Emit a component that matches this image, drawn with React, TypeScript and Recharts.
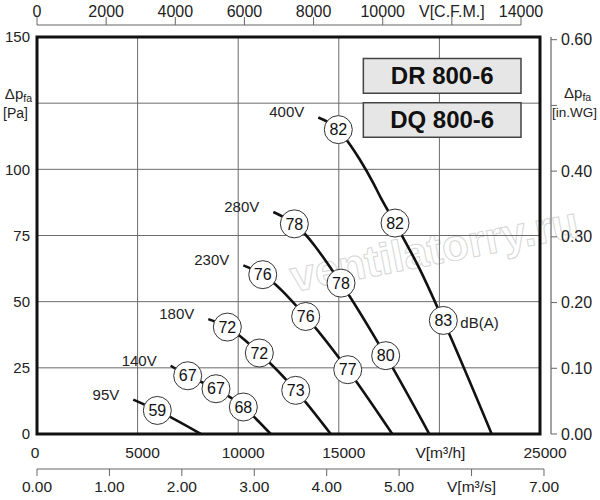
import React from "react";
import {
  LineChart,
  Line,
  XAxis,
  YAxis,
  CartesianGrid,
  ReferenceArea,
  ReferenceLine,
} from "recharts";

// fan curves, V in m3/h, dp in Pa, db = sound level written in the circle
const CURVE_400V = [
  { q: 13980, p: 119.6 },
  { q: 14975, p: 115.0, db: 82 },
  { q: 15560, p: 109.3 },
  { q: 16050, p: 103.6 },
  { q: 16715, p: 94.8 },
  { q: 17050, p: 89.8 },
  { q: 17795, p: 79.7, db: 82 },
  { q: 19035, p: 62.1 },
  { q: 20195, p: 42.9, db: 83, unit: "dB(A)" },
  { q: 22600, p: 0 },
];
const CURVE_280V = [
  { q: 11745, p: 83.9 },
  { q: 12790, p: 79.4, db: 78 },
  { q: 15110, p: 57.0, db: 78 },
  { q: 17330, p: 29.6, db: 80 },
  { q: 19500, p: 0 },
];
const CURVE_230V = [
  { q: 10255, p: 63.7 },
  { q: 11220, p: 60.2, db: 76 },
  { q: 13355, p: 44.4, db: 76 },
  { q: 15445, p: 24.3, db: 77 },
  { q: 17660, p: 0 },
];
const CURVE_180V = [
  { q: 8515, p: 43.4 },
  { q: 9460, p: 40.4, db: 72 },
  { q: 11050, p: 30.6, db: 72 },
  { q: 12860, p: 16.5, db: 73 },
  { q: 14600, p: 0 },
];
const CURVE_140V = [
  { q: 6645, p: 25.8 },
  { q: 7490, p: 22.0, db: 67 },
  { q: 8895, p: 17.1, db: 67 },
  { q: 10255, p: 10.2, db: 68 },
  { q: 11615, p: 0 },
];
const CURVE_95V = [
  { q: 4785, p: 13.0 },
  { q: 5980, p: 8.9, db: 59 },
  { q: 8140, p: 0 },
];

const SERIES = [
  { volt: "400V", data: CURVE_400V },
  { volt: "280V", data: CURVE_280V },
  { volt: "230V", data: CURVE_230V },
  { volt: "180V", data: CURVE_180V },
  { volt: "140V", data: CURVE_140V },
  { volt: "95V", data: CURVE_95V },
];

const Q_TICKS = [0, 5000, 10000, 15000, 20000, 25000];
const PA_TICKS = [0, 25, 50, 75, 100, 125, 150];
const CFM_TICKS = [0, 2000, 4000, 6000, 8000, 10000, 12000, 14000];
const MS_TICKS = [0, 1, 2, 3, 4, 5, 6, 7];
const WG_TICKS = [0, 0.1, 0.2, 0.3, 0.4, 0.5, 0.6];

// invisible rows so the unit axes get a scale of their own
const CFM_ROWS = CFM_TICKS.map((v) => ({ cfm: v, p: 0 }));
const MS_ROWS = MS_TICKS.map((v) => ({ ms: v, p: 0 }));

const FONT = '"Liberation Sans", Arial, sans-serif';
const INK = "#222";
const AXIS_GRAY = "#666";

// secondary axis lines sit outside the plot: 12px above / 35px below (in Pa)
const TOP_LINE_PA = 150 + (12 * 150) / 397;
const BOTTOM_LINE_PA = -(35 * 150) / 397;

const PaTick = ({ x, y, payload }: any) => {
  if (payload.value === 125) {
    return (
      <g>
        <text x={x - 5} y={y - 4.5} textAnchor="end" fontSize={15} fill={INK}>
          Δp
          <tspan fontSize={10.5} dy={3}>
            fa
          </tspan>
        </text>
        <text x={x - 9} y={y + 14.5} textAnchor="end" fontSize={14} fill={INK}>
          [Pa]
        </text>
      </g>
    );
  }
  return (
    <text x={x - 7} y={y} dy={5.3} textAnchor="end" fontSize={15} fill={INK}>
      {payload.value}
    </text>
  );
};

const WgTick = ({ x, y, payload }: any) => {
  if (payload.value === 0.5) {
    return (
      <g>
        <text x={x + 3} y={y - 7.4} fontSize={15} fill={INK}>
          Δp
          <tspan fontSize={10.5} dy={3}>
            fa
          </tspan>
        </text>
        <text x={x - 9} y={y + 11.6} fontSize={13.5} fill={INK}>
          [in.WG]
        </text>
      </g>
    );
  }
  return (
    <text x={x} y={y} dy={5.6} fontSize={16} fill={INK}>
      {payload.value.toFixed(2)}
    </text>
  );
};

const CfmTick = ({ x, y, payload }: any) => (
  <text x={x} y={y - 0.5} textAnchor="middle" fontSize={16} fill={INK}>
    {payload.value === 12000 ? "V[C.F.M.]" : payload.value}
  </text>
);

const QTick = ({ x, y, payload }: any) => {
  const v = payload.value;
  const dx = v === 0 ? -2 : v === 20000 ? 1 : 5;
  return (
    <text x={x + dx} y={y + 23.5} textAnchor="middle" fontSize={15.5} fill={INK}>
      {v === 20000 ? "V[m³/h]" : v}
    </text>
  );
};

const MsTick = ({ x, y, payload }: any) => (
  <text x={x} y={y + 15.7} textAnchor="middle" fontSize={15.5} fill={INK}>
    {payload.value === 6 ? "V[m³/s]" : payload.value.toFixed(2)}
  </text>
);

const makeDot = (volt: string) => (props: any) => {
  const { cx, cy, index, payload } = props;
  const key = `${volt}-${index}`;
  if (index === 0) {
    return (
      <text key={key} x={cx - 14} y={cy} textAnchor="end" fontSize={15} fill={INK}>
        {volt}
      </text>
    );
  }
  if (payload.db == null) return <g key={key} />;
  return (
    <g key={key}>
      <circle cx={cx} cy={cy} r={14} fill="#fff" stroke="#333" strokeWidth={1} />
      <text x={cx} y={cy} dy={5.7} textAnchor="middle" fontSize={16} fill="#111">
        {payload.db}
      </text>
      {payload.unit && (
        <text x={cx + 17} y={cy + 2} dy={5.3} fontSize={15} fill={INK}>
          {payload.unit}
        </text>
      )}
    </g>
  );
};

export default function App() {
  return (
    <div style={{ position: "absolute", left: 0, top: 0, width: 600, height: 500, background: "#fff" }}>
      {/* faint site watermark behind the chart */}
      <svg width={600} height={500} style={{ position: "absolute", left: 0, top: 0 }}>
        <text
          x={437}
          y={264}
          textAnchor="middle"
          transform="rotate(-11 437 264)"
          fontFamily={FONT}
          fontWeight={700}
          fontSize={44}
          fill="none"
          stroke="#d6d6d6"
          strokeWidth={1}
        >
          ventilatorry.ru
        </text>
      </svg>
      <div style={{ position: "absolute", left: 0, top: 0 }}>
        <LineChart
          width={600}
          height={500}
          margin={{ top: 0, right: 0, bottom: 0, left: 0 }}
          style={{ fontFamily: FONT }}
        >
          <CartesianGrid xAxisId="b1q" yAxisId="pa" stroke="#6b6b6b" strokeWidth={1} />

          <XAxis
            xAxisId="b1q"
            dataKey="q"
            type="number"
            orientation="bottom"
            domain={[0, 25000]}
            allowDataOverflow
            ticks={Q_TICKS}
            interval={0}
            height={35}
            axisLine={false}
            tickLine={false}
            tickSize={0}
            tickMargin={0}
            tick={(p: any) => <QTick {...p} />}
          />
          <XAxis
            xAxisId="b2ms"
            dataKey="ms"
            type="number"
            orientation="bottom"
            domain={[0, 6.945]}
            allowDataOverflow
            ticks={MS_TICKS}
            interval={0}
            height={31}
            axisLine={false}
            tickLine={{ stroke: AXIS_GRAY }}
            tickSize={7}
            tickMargin={0}
            tick={(p: any) => <MsTick {...p} />}
          />
          <XAxis
            xAxisId="t1gap"
            type="number"
            orientation="top"
            domain={[0, 1]}
            height={12}
            axisLine={false}
            tickLine={false}
            tick={false}
          />
          <XAxis
            xAxisId="t2cfm"
            dataKey="cfm"
            type="number"
            orientation="top"
            domain={[0, 14550]}
            allowDataOverflow
            ticks={CFM_TICKS}
            interval={0}
            height={25}
            axisLine={false}
            tickLine={{ stroke: AXIS_GRAY }}
            tickSize={8}
            tickMargin={0}
            tick={(p: any) => <CfmTick {...p} />}
          />

          <YAxis
            yAxisId="pa"
            type="number"
            domain={[0, 150]}
            allowDataOverflow
            ticks={PA_TICKS}
            interval={0}
            width={37}
            axisLine={false}
            tickLine={false}
            tickSize={0}
            tickMargin={0}
            tick={(p: any) => <PaTick {...p} />}
          />
          <YAxis
            yAxisId="r1gap"
            orientation="right"
            type="number"
            domain={[0, 1]}
            width={11}
            axisLine={false}
            tickLine={false}
            tick={false}
          />
          <YAxis
            yAxisId="r2wg"
            orientation="right"
            type="number"
            domain={[0, 0.6041]}
            allowDataOverflow
            ticks={WG_TICKS}
            interval={0}
            width={49}
            axisLine={{ stroke: AXIS_GRAY, strokeWidth: 1.2 }}
            tickLine={{ stroke: AXIS_GRAY }}
            tickSize={6}
            tickMargin={4}
            tick={(p: any) => <WgTick {...p} />}
          />

          <Line
            xAxisId="t2cfm"
            yAxisId="pa"
            data={CFM_ROWS}
            dataKey="p"
            stroke="none"
            dot={false}
            activeDot={false}
            isAnimationActive={false}
          />
          <Line
            xAxisId="b2ms"
            yAxisId="pa"
            data={MS_ROWS}
            dataKey="p"
            stroke="none"
            dot={false}
            activeDot={false}
            isAnimationActive={false}
          />

          <ReferenceLine
            xAxisId="t2cfm"
            yAxisId="pa"
            segment={[
              { x: 0, y: TOP_LINE_PA },
              { x: 14000, y: TOP_LINE_PA },
            ]}
            stroke={AXIS_GRAY}
            strokeWidth={1.2}
            ifOverflow="visible"
          />
          <ReferenceLine
            xAxisId="b2ms"
            yAxisId="pa"
            segment={[
              { x: 0, y: BOTTOM_LINE_PA },
              { x: 7, y: BOTTOM_LINE_PA },
            ]}
            stroke={AXIS_GRAY}
            strokeWidth={1.2}
            ifOverflow="visible"
          />

          <ReferenceArea
            xAxisId="b1q"
            yAxisId="pa"
            x1={16220}
            x2={24055}
            y1={128.7}
            y2={141.9}
            fill="#e6e6e6"
            fillOpacity={1}
            stroke="#444"
            strokeWidth={1.5}
            ifOverflow="visible"
            label={{ value: "DR 800-6", position: "center", fontSize: 24, fontWeight: 700, fill: "#111" }}
          />
          <ReferenceArea
            xAxisId="b1q"
            yAxisId="pa"
            x1={16220}
            x2={24055}
            y1={112.1}
            y2={125.2}
            fill="#e6e6e6"
            fillOpacity={1}
            stroke="#444"
            strokeWidth={1.5}
            ifOverflow="visible"
            label={{ value: "DQ 800-6", position: "center", fontSize: 24, fontWeight: 700, fill: "#111" }}
          />

          {SERIES.map((s) => (
            <Line
              key={s.volt}
              xAxisId="b1q"
              yAxisId="pa"
              data={s.data}
              dataKey="p"
              type="monotone"
              stroke="#111"
              strokeWidth={2.6}
              dot={makeDot(s.volt)}
              activeDot={false}
              isAnimationActive={false}
            />
          ))}

          <ReferenceArea
            xAxisId="b1q"
            yAxisId="pa"
            x1={0}
            x2={25000}
            y1={0}
            y2={150}
            fill="none"
            stroke="#111"
            strokeWidth={3}
            ifOverflow="visible"
          />
        </LineChart>
      </div>
    </div>
  );
}
